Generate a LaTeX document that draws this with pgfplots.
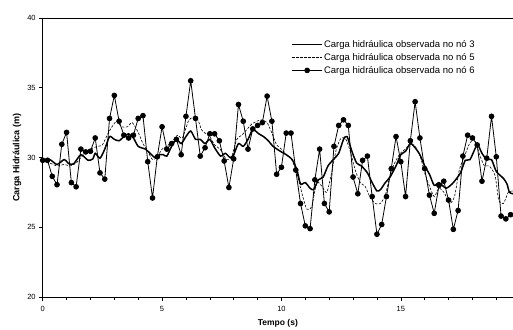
\documentclass[border=0pt]{standalone}
\usepackage{fontspec}
\setmainfont{Liberation Sans}
\usepackage{pgfplots}
\usepackage{pgfplotstable}
\pgfplotsset{compat=1.18}

\pgfplotstableread{
t v
0 29.8
0.3 29.85
0.6 29.5
0.9 29.85
1.1 29.55
1.3 29.55
1.6 30.2
1.9 29.8
2.1 29.9
2.2 30.3
2.4 29.95
2.6 30.6
2.8 31.5
3.0 31.3
3.2 31.2
3.4 31.5
3.6 31.7
3.8 31.4
4.0 30.8
4.3 30.6
4.5 30.3
4.7 30.0
4.9 30.2
5.05 30.2
5.2 30.1
5.4 30.8
5.6 31.3
5.8 31.0
6.0 31.5
6.2 31.9
6.4 31.3
6.6 31.3
6.8 31.0
7.0 31.3
7.2 30.7
7.45 30.1
7.65 30.3
7.85 30.0
8.0 30.2
8.2 31.0
8.4 30.8
8.6 31.3
8.8 32.0
9.05 31.7
9.25 31.5
9.45 31.2
9.65 30.8
9.95 30.45
10.2 30.2
10.45 29.85
10.65 29.1
10.8 28.1
11.0 28.2
11.2 27.8
11.35 27.7
11.55 28.4
11.75 28.6
11.95 29.4
12.2 29.9
12.4 30.3
12.6 31.3
12.75 31.5
12.95 30.45
13.15 29.6
13.35 29.4
13.6 28.9
13.8 28.2
14.0 27.6
14.15 27.7
14.35 28.2
14.55 28.6
14.8 29.4
15.0 30.2
15.2 30.45
15.4 31.0
15.6 30.7
15.8 30.2
16.0 29.4
16.2 28.8
16.4 28.0
16.6 28.2
16.9 27.8
17.2 28.2
17.5 28.9
17.7 29.8
17.9 29.85
18.2 30.9
18.4 30.3
18.6 29.85
18.8 29.85
19.0 29.0
19.3 28.5
19.45 28.1
19.55 27.5
19.7 27.4
}\nodethree

\pgfplotstableread{
t v
0 29.8
0.3 29.6
0.6 29.4
0.9 29.5
1.15 29.4
1.4 29.6
1.7 30.2
2.0 30.6
2.3 30.8
2.5 30.9
2.7 31.6
2.9 32.2
3.1 32.6
3.3 32.2
3.55 32.2
3.75 32.5
4.0 31.8
4.2 31.0
4.4 30.45
4.6 29.85
4.8 30.05
5.0 30.6
5.2 30.8
5.45 31.2
5.65 31.6
5.85 31.4
6.1 32.6
6.3 32.9
6.5 32.7
6.65 32.0
6.8 31.75
7.0 31.5
7.2 30.9
7.43 30.6
7.7 29.85
7.9 30.0
8.13 31.3
8.34 31.6
8.55 32.0
8.76 32.4
8.97 32.6
9.18 32.7
9.4 32.5
9.6 31.75
9.8 30.9
10.0 30.6
10.22 30.2
10.43 29.85
10.64 28.9
10.85 27.5
11.06 26.3
11.27 26.5
11.48 28.2
11.69 27.95
11.9 27.5
12.1 28.9
12.3 30.6
12.5 31.4
12.7 31.3
12.88 30.45
13.09 29.1
13.3 28.2
13.5 27.95
13.7 27.2
13.93 26.7
14.14 26.7
14.35 27.3
14.56 28.8
14.77 29.7
14.98 30.3
15.19 30.6
15.4 31.0
15.6 30.8
15.81 30.1
16.0 28.9
16.2 27.95
16.4 27.2
16.6 27.8
16.83 27.45
17.04 26.7
17.25 27.2
17.45 29.1
17.67 30.1
17.88 31.0
18.09 31.3
18.3 30.2
18.5 29.4
18.7 29.4
18.95 28.7
19.1 26.95
19.3 26.7
19.5 27.5
19.7 27.6
}\nodefive

\pgfplotstableread{
t v
0.0 29.8
0.2 29.8
0.4 28.65
0.6 28.05
0.8 30.95
1.0 31.8
1.2 28.2
1.4 27.9
1.6 30.6
1.8 30.4
2.0 30.45
2.2 31.4
2.4 28.9
2.6 28.45
2.8 32.8
3.0 34.45
3.2 32.6
3.4 31.6
3.6 31.4
3.8 31.6
4.0 32.8
4.2 33.0
4.4 29.7
4.6 27.1
4.8 30.05
5.0 32.2
5.2 30.6
5.4 31.0
5.6 31.3
5.8 30.2
6.0 32.95
6.2 35.5
6.4 32.8
6.6 30.1
6.8 30.7
7.0 31.7
7.2 31.7
7.4 31.2
7.6 29.75
7.8 27.85
8.0 29.9
8.2 33.8
8.4 32.6
8.6 30.6
8.8 32.05
9.0 32.3
9.2 32.5
9.4 34.4
9.6 32.6
9.8 28.8
10.0 29.3
10.2 31.75
10.4 31.75
10.6 29.1
10.8 26.7
11.0 25.1
11.2 24.9
11.4 28.4
11.6 30.6
11.8 26.7
12.0 26.1
12.2 30.8
12.4 32.3
12.6 32.7
12.8 32.3
13.0 28.6
13.2 27.4
13.4 29.8
13.6 30.1
13.8 27.2
14.0 24.5
14.2 25.2
14.4 27.2
14.6 29.2
14.8 31.5
15.0 29.7
15.2 27.2
15.4 31.2
15.6 34.0
15.8 31.4
16.0 29.2
16.2 27.3
16.4 26.0
16.6 28.0
16.8 28.3
17.0 26.95
17.2 24.85
17.4 26.2
17.6 30.1
17.8 31.6
18.0 31.4
18.2 30.9
18.4 28.3
18.6 29.95
18.8 32.95
19.0 30.05
19.2 25.8
19.4 25.6
19.6 25.9
}\nodesix

\begin{document}
\begin{tikzpicture}
\begin{axis}[
  scale only axis, width=470.3pt, height=279pt,
  xmin=0, xmax=19.7, ymin=20, ymax=40,
  axis x line*=bottom, axis y line*=left,
  axis line style={black, line width=0.9pt},
  xtick={0,5,10,15}, minor xtick={1,2,3,4,6,7,8,9,11,12,13,14,16,17,18,19},
  ytick={20,25,30,35,40},
  tick align=outside, major tick length=3.5pt, minor tick length=3pt,
  tick style={black, line width=0.6pt},
  /pgf/number format/assume math mode=true,
  ticklabel style={font=\fontsize{7.5}{9}\selectfont},
  xticklabel style={yshift=-2pt},
  xlabel={Tempo (s)}, ylabel={Carga Hidráulica (m)},
  xlabel style={font=\fontsize{8.5}{10}\selectfont\bfseries, at={(axis description cs:0.5,-0.093)}, anchor=center},
  ylabel style={font=\fontsize{9}{10}\selectfont\bfseries, at={(axis description cs:-0.0546,0.5)}, anchor=center, rotate=0},
  clip=true,
  legend style={at={(rel axis cs:0.522,0.932)}, anchor=north west, draw=none, fill=none,
    font=\fontsize{9.5}{11}\selectfont, row sep=2pt, nodes={inner sep=1.2pt}},
  legend cell align=left,
  legend image code/.code={
    \draw[#1] (0pt,0pt) -- (30pt,0pt);
    \path[#1,solid] plot coordinates {(15pt,0pt)};
  },
]
\addplot[black, line width=1.5pt, smooth, tension=0.4, mark=none] table[x=t,y=v] {\nodethree};
\addlegendentry{Carga hidráulica observada no nó 3}
\addplot[black, line width=0.6pt, dash pattern=on 2.5pt off 1.5pt, smooth, tension=0.4, mark=none] table[x=t,y=v] {\nodefive};
\addlegendentry{Carga hidráulica observada no nó 5}
\addplot[black, line width=0.8pt, mark=*, mark size=2.4pt, mark options={solid, fill=black}] table[x=t,y=v] {\nodesix};
\addlegendentry{Carga hidráulica observada no nó 6}
\draw[black, line width=0.6pt] (rel axis cs:0,1) -- (rel axis cs:1,1);
\end{axis}
\pgfresetboundingbox
\path[use as bounding box] (current axis.south west) ++(-42.7pt,-32pt) rectangle ([shift={(0pt,18pt)}]current axis.north east);
\end{tikzpicture}
\end{document}
